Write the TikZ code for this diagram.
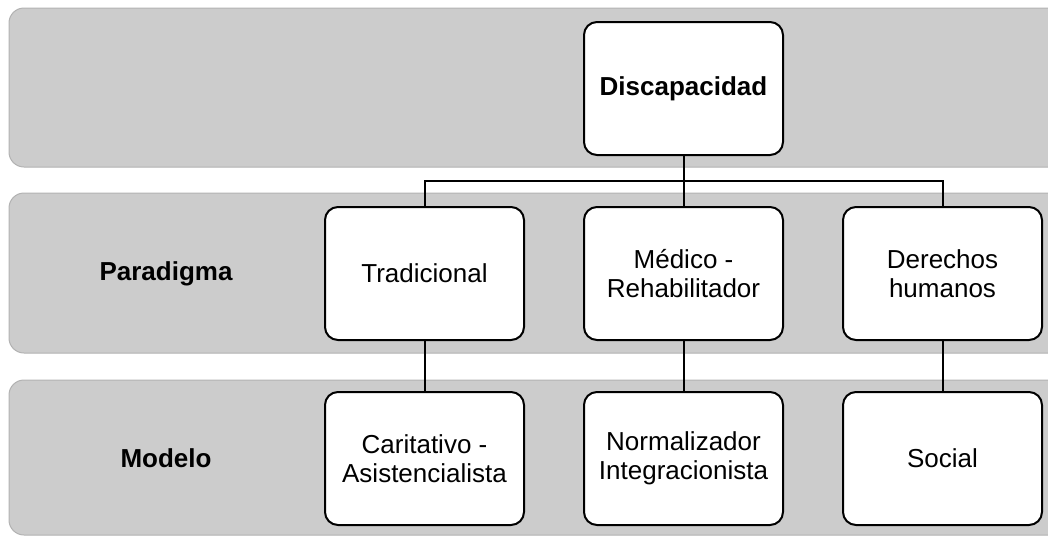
\documentclass[tikz,border=0pt]{standalone}
\usepackage{fontspec}
\setmainfont{Liberation Sans}
\usetikzlibrary{%
    positioning
}
\tikzset{
    band/.style = {draw=black!30, line width=1pt, fill=black!20, rounded corners=15pt},
    box/.style = {draw, line width=2pt, fill=white, rounded corners=13pt,
        minimum width=199pt, minimum height=133pt, outer sep=0pt,
        align=center, font=\fontsize{26}{29}\selectfont},
    rowlabel/.style = {font=\fontsize{26}{29}\selectfont\bfseries},
    link/.style = {line width=2pt}
}

\begin{document}
\begin{tikzpicture}[x=1pt, y=1pt]
    \useasboundingbox (0,0) rectangle (1048,-536);
    \clip (0,0) rectangle (1048,-536);

    % gray bands
    \draw[band] (9,-8) rectangle (1080,-167);
    \draw[band] (9,-193) rectangle (1080,-353);
    \draw[band] (9,-380) rectangle (1080,-535);

    \node[box, font=\fontsize{26}{29}\selectfont\bfseries] (disc) at (683.5,-88.5) {Discapacidad};
    \node[box] (med) [below=52pt of disc] {Médico -\\Rehabilitador};
    \node[box] (trad) [left=60pt of med] {Tradicional};
    \node[box] (der) [right=60pt of med] {Derechos\\humanos};
    \node[box] (carit) [below=52pt of trad] {Caritativo -\\Asistencialista};
    \node[box] (norm) [below=52pt of med] {Normalizador\\Integracionista};
    \node[box] (soc) [below=52pt of der] {Social};

    \coordinate (lblx) at (166,0);
    \node[rowlabel] (par-lbl) at (trad -| lblx) {Paradigma};
    \node[rowlabel] (mod-lbl) at (carit -| lblx) {Modelo};

    \coordinate (split) at ([yshift=-26pt]disc.south);
    \draw[link] (disc.south) -- (split);
    \draw[link] (trad.north) |- (split) -| (der.north);
    \draw[link] (split) -- (med.north);
    \foreach \Source/\Target in {trad/carit, med/norm, der/soc}
        \draw[link] (\Source.south) -- (\Target.north);
\end{tikzpicture}
\end{document}
